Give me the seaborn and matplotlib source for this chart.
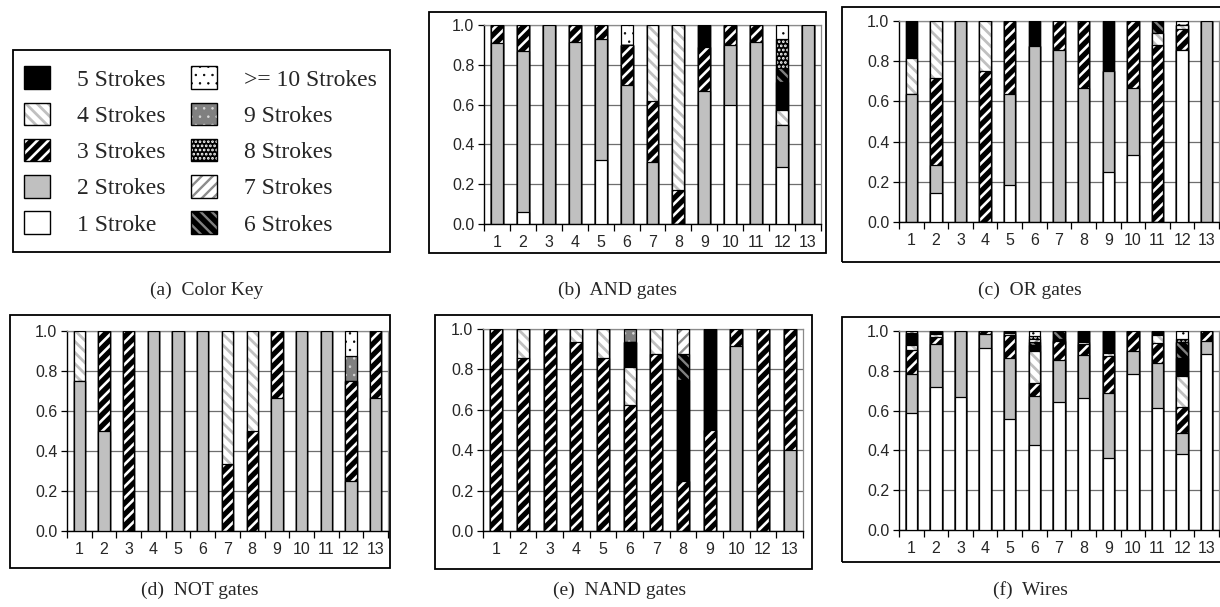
import numpy as np
import matplotlib
matplotlib.use("Agg")
import matplotlib.pyplot as plt
import seaborn as sns
from matplotlib.patches import Patch, Rectangle
from matplotlib.colors import to_rgba

sns.set_style("white")
plt.rcParams['font.family'] = ['Liberation Sans', 'DejaVu Sans']
plt.rcParams['hatch.linewidth'] = 1.8

# ---------------- data ----------------
cats13 = [str(i) for i in range(1, 14)]
nand_cats = ["1", "2", "3", "4", "5", "6", "7", "8", "9", "10", "12", "13"]
yticks = [0.0, 0.2, 0.4, 0.6, 0.8, 1.0]

# (b) AND gates
and_s1 = [0, .06, 0, 0, .32, 0, 0, 0, 0, .60, 0, .286, 0]
and_s2 = [.91, .81, 1, .917, .61, .70, .31, 0, .667, .30, .917, .214, 1]
and_s3 = [.09, .13, 0, .083, .07, .20, .31, .17, .222, .10, .083, 0, 0]
and_s4 = [0, 0, 0, 0, 0, 0, .38, .83, 0, 0, 0, .071, 0]
and_s5 = [0, 0, 0, 0, 0, 0, 0, 0, .111, 0, 0, .143, 0]
and_s6 = [0, 0, 0, 0, 0, 0, 0, 0, 0, 0, 0, .071, 0]
and_s8 = [0, 0, 0, 0, 0, 0, 0, 0, 0, 0, 0, .143, 0]
and_s10 = [0, 0, 0, 0, 0, .10, 0, 0, 0, 0, 0, .071, 0]

# (c) OR gates
or_s1 = [0, .143, 0, 0, .182, 0, 0, 0, .25, .333, 0, .857, 0]
or_s2 = [.636, .143, 1, 0, .455, .875, .857, .667, .50, .333, 0, 0, 1]
or_s3 = [0, .428, 0, .75, .363, 0, .143, .333, 0, .334, .882, .103, 0]
or_s4 = [.182, .286, 0, .25, 0, 0, 0, 0, 0, 0, .059, .02, 0]
or_s5 = [.182, 0, 0, 0, 0, .125, 0, 0, .25, 0, 0, 0, 0]
or_s6 = [0, 0, 0, 0, 0, 0, 0, 0, 0, 0, .059, 0, 0]
or_s10 = [0, 0, 0, 0, 0, 0, 0, 0, 0, 0, 0, .02, 0]

# (d) NOT gates
not_s2 = [.75, .5, 0, 1, 1, 1, 0, 0, .667, 1, 1, .25, .667]
not_s3 = [0, .5, 1, 0, 0, 0, .333, .5, .333, 0, 0, .5, .333]
not_s4 = [.25, 0, 0, 0, 0, 0, .667, .5, 0, 0, 0, 0, 0]
not_s9 = [0, 0, 0, 0, 0, 0, 0, 0, 0, 0, 0, .125, 0]
not_s10 = [0, 0, 0, 0, 0, 0, 0, 0, 0, 0, 0, .125, 0]

# (e) NAND gates
nand_s2 = [0, 0, 0, 0, 0, 0, 0, 0, 0, .917, 0, .4]
nand_s3 = [1, .857, 1, .9375, .857, .625, .875, .25, .5, .083, 1, .6]
nand_s4 = [0, .143, 0, .0625, .143, .1875, .125, 0, 0, 0, 0, 0]
nand_s5 = [0, 0, 0, 0, 0, .125, 0, .5, .5, 0, 0, 0]
nand_s6 = [0, 0, 0, 0, 0, 0, 0, .125, 0, 0, 0, 0]
nand_s7 = [0, 0, 0, 0, 0, 0, 0, .125, 0, 0, 0, 0]
nand_s9 = [0, 0, 0, 0, 0, .0625, 0, 0, 0, 0, 0, 0]

# (f) Wires
wire_s1 = [.586, .72, .67, .915, .556, .427, .645, .665, .36, .785, .615, .382, .883]
wire_s2 = [.2, .213, .33, .071, .31, .248, .209, .213, .327, .115, .222, .104, .067]
wire_s3 = [.12, .037, 0, .014, .112, .062, .096, .055, .188, .1, .104, .134, .05]
wire_s4 = [.022, .015, 0, 0, .01, .163, 0, .012, .016, 0, .039, .156, 0]
wire_s5 = [.055, .015, 0, 0, .012, .03, .01, .055, .109, 0, .02, .087, 0]
wire_s6 = [.009, 0, 0, 0, 0, .015, .04, 0, 0, 0, 0, .083, 0]
wire_s7 = [.008, 0, 0, 0, 0, .015, 0, 0, 0, 0, 0, 0, 0]
wire_s8 = [0, 0, 0, 0, 0, .015, 0, 0, 0, 0, 0, .012, 0]
wire_s10 = [0, 0, 0, 0, 0, .025, 0, 0, 0, 0, 0, .042, 0]

stroke_names = {1: "1 Stroke", 2: "2 Strokes", 3: "3 Strokes", 4: "4 Strokes",
                5: "5 Strokes", 6: "6 Strokes", 7: "7 Strokes", 8: "8 Strokes",
                9: "9 Strokes", 10: ">= 10 Strokes"}

# ---------------- styles ----------------
STY = {
    1: dict(face="white"),
    2: dict(face="#c0c0c0"),
    3: dict(face="black", hatch="///", hcolor="white", hlw=1.9),
    4: dict(face="white", hatch="\\\\\\", hcolor="#c0c0c0", hlw=2.0),
    5: dict(face="black"),
    6: dict(face="black", hatch="\\\\\\", hcolor="#808080", hlw=1.7),
    7: dict(face="white", hatch="///", hcolor="#8c8c8c", hlw=1.7),
    8: dict(face="black", hatch="....", hcolor="white", hlw=1.3),
    9: dict(face="#808080", hatch="..", hcolor="#d8d8d8", hlw=0.6),
    10: dict(face="white", hatch="..", hcolor="black", hlw=0.5),
}


def style_patch(p, k, lw=0.9):
    s = STY[k]
    p.set_facecolor(s["face"])
    p.set_edgecolor("black")
    p.set_linewidth(lw)
    if s.get("hatch"):
        p.set_hatch(s["hatch"])
        p._hatch_color = to_rgba(s["hcolor"])
        if hasattr(p, "set_hatch_linewidth"):
            p.set_hatch_linewidth(s["hlw"])
        else:
            p._hatch_linewidth = s["hlw"]
    else:
        p.set_hatch(None)


W, H = 1220, 607


def add_ax(x0, x1, y0, y1):
    return fig.add_axes([x0 / W, 1 - y1 / H, (x1 - x0) / W, (y1 - y0) / H])


def frame(x0, x1, y0, y1):
    fig.add_artist(Rectangle((x0 / W, 1 - y1 / H), (x1 - x0) / W, (y1 - y0) / H,
                             transform=fig.transFigure, fill=False,
                             edgecolor="black", linewidth=1.3))


def caption(x, y, text):
    fig.text(x / W, 1 - y / H, text, ha="center", va="center",
             family=["Liberation Serif", "DejaVu Serif"], fontsize=14)


def stacked(ax, cats, layers):
    n = len(cats)
    levels = sorted(layers)
    cum = {}
    run = np.zeros(n)
    for k in levels:
        run = run + np.asarray(layers[k], dtype=float)
        cum[k] = run.copy()
    for k in reversed(levels):
        n0 = len(ax.patches)
        sns.barplot(x=cats, y=cum[k], order=cats, color=STY[k]["face"],
                    width=0.46, errorbar=None, ax=ax, zorder=3)
        for p in ax.patches[n0:]:
            style_patch(p, k)
    ax.set_xlim(-0.5, n - 0.5)
    ax.set_ylim(0, 1.0)
    ax.set_xlabel("")
    ax.set_ylabel("")
    ax.set_xticks(range(n))
    ax.set_xticklabels(cats)
    ax.set_xticks(np.arange(-0.5, n, 1.0), minor=True)
    ax.set_yticks(yticks)
    ax.set_yticklabels([f"{v:.1f}" for v in yticks])
    ax.tick_params(axis="x", which="major", length=0, pad=8, labelsize=11.5)
    ax.tick_params(axis="x", which="minor", length=5, width=0.9,
                   direction="out", color="black", bottom=True)
    ax.tick_params(axis="y", which="major", length=4, width=0.9,
                   direction="out", color="black", left=True, labelsize=11.5, pad=3)
    ax.yaxis.grid(True, color="#6e6e6e", linewidth=0.9, zorder=0)
    ax.xaxis.grid(False)
    ax.set_axisbelow(True)
    for side in ["left", "bottom"]:
        ax.spines[side].set_color("black")
        ax.spines[side].set_linewidth(1.0)
    for side in ["top", "right"]:
        ax.spines[side].set_color("#8a8a8a")
        ax.spines[side].set_linewidth(0.9)
        ax.spines[side].set_visible(True)
    ax.set_facecolor("white")


fig = plt.figure(figsize=(W / 100, H / 100), dpi=100)
fig.patch.set_facecolor("white")

# (a) legend
frame(13, 390, 50, 252)
ax_leg = add_ax(13, 390, 50, 252)
ax_leg.axis("off")
leg_order = [5, 4, 3, 2, 1, 10, 9, 8, 7, 6]
handles = []
for k in leg_order:
    h = Patch(facecolor="white", edgecolor="black")
    style_patch(h, k, lw=1.0)
    handles.append(h)
leg = ax_leg.legend(handles, [stroke_names[k] for k in leg_order], ncol=2,
                    loc="center left", bbox_to_anchor=(11 / 377, 0.5), frameon=False,
                    prop={"family": ["Liberation Serif", "DejaVu Serif"], "size": 17},
                    handlelength=1.1, handleheight=1.1, labelspacing=0.5,
                    handletextpad=1.15, columnspacing=1.05, borderaxespad=0,
                    borderpad=0)
for p, k in zip(leg.get_patches(), leg_order):
    style_patch(p, k, lw=1.0)
caption(207, 290, "(a)  Color Key")

# (b) AND gates
frame(429, 826, 12, 253)
ax_and = add_ax(484, 821, 25, 224)
stacked(ax_and, cats13, {1: and_s1, 2: and_s2, 3: and_s3, 4: and_s4, 5: and_s5,
                         6: and_s6, 8: and_s8, 10: and_s10})
caption(617, 290, "(b)  AND gates")

# (c) OR gates
frame(842, 1225, 7, 262)
ax_or = add_ax(899, 1219, 21, 222)
stacked(ax_or, cats13, {1: or_s1, 2: or_s2, 3: or_s3, 4: or_s4, 5: or_s5,
                        6: or_s6, 10: or_s10})
caption(1030, 290, "(c)  OR gates")

# (d) NOT gates
frame(10, 390, 315, 568)
ax_not = add_ax(67, 388, 331, 531)
stacked(ax_not, cats13, {2: not_s2, 3: not_s3, 4: not_s4, 9: not_s9, 10: not_s10})
caption(200, 590, "(d)  NOT gates")

# (e) NAND gates
frame(435, 812, 315, 569)
ax_nand = add_ax(483, 803, 329, 531)
stacked(ax_nand, nand_cats, {2: nand_s2, 3: nand_s3, 4: nand_s4, 5: nand_s5,
                             6: nand_s6, 7: nand_s7, 9: nand_s9})
caption(620, 590, "(e)  NAND gates")

# (f) Wires
frame(842, 1225, 317, 562)
ax_w = add_ax(899, 1219, 331, 530)
stacked(ax_w, cats13, {1: wire_s1, 2: wire_s2, 3: wire_s3, 4: wire_s4, 5: wire_s5,
                       6: wire_s6, 7: wire_s7, 8: wire_s8, 10: wire_s10})
caption(1030, 590, "(f)  Wires")

fig.savefig("out.png", dpi=100)
